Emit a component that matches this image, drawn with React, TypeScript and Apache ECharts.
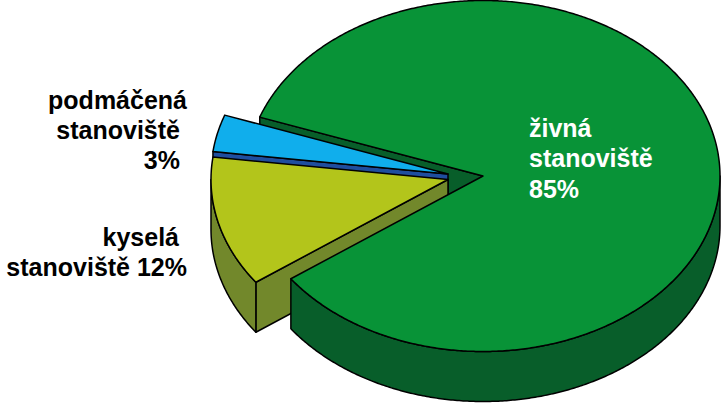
import React, { useEffect, useRef } from "react";
import * as echarts from "echarts";

const categories = ["živná stanoviště", "kyselá stanoviště", "podmáčená stanoviště"];
const shares = [84.6, 12.0, 3.4];
const topColors = ["#089337", "#B3C51B", "#10AEEC"];
const wallColors = ["#085E2A", "#72882B", "#1F4E9E"];

const labelLines = [
  { text: "podmáčená", align: "right", x: 187, y: 100, fill: "#000" },
  { text: "stanoviště", align: "right", x: 180, y: 130, fill: "#000" },
  { text: "3%", align: "right", x: 180, y: 160, fill: "#000" },
  { text: "kyselá", align: "right", x: 179, y: 237, fill: "#000" },
  { text: "stanoviště 12%", align: "right", x: 187, y: 267, fill: "#000" },
  { text: "živná", align: "left", x: 529, y: 128, fill: "#fff" },
  { text: "stanoviště", align: "left", x: 529, y: 158, fill: "#fff" },
  { text: "85%", align: "left", x: 529, y: 189, fill: "#fff" },
];

const RX = 237;
const RY = 175.5;
const DEPTH = 50;
const START = 199.6;
const centers = [
  [483, 176],
  [448, 179.5],
  [448, 174],
];
// Paint order: green's inner wall, blue, yellow, then green's front and top
const layers = [30, 10, 5];
const LINE = { stroke: "#000", lineWidth: 1.5, lineJoin: "round" };

const rad = (d: number) => (d * Math.PI) / 180;
const rim = (c: number[], a: number, dy = 0) => [
  c[0] + RX * Math.cos(rad(a)),
  c[1] + RY * Math.sin(rad(a)) + dy,
];
const arc = (c: number[], a0: number, a1: number, dy = 0) => {
  const pts: number[][] = [];
  const n = Math.max(2, Math.ceil(Math.abs(a1 - a0) * 2));
  for (let i = 0; i <= n; i++) pts.push(rim(c, a0 + ((a1 - a0) * i) / n, dy));
  return pts;
};

const poly = (points: number[][], fill: string, z2: number) => ({
  type: "polygon",
  z2,
  shape: { points },
  style: { fill, ...LINE },
});

function renderSlice(params: any, api: any) {
  const i = params.dataIndex;
  const total = shares.reduce((s, v) => s + v, 0);
  let a0 = START;
  for (let k = 0; k < i; k++) a0 += (shares[k] / total) * 360;
  const a1 = a0 + (api.value(0) / total) * 360;
  const c = centers[i];
  const base = layers[i];
  const children: any[] = [];

  // Wall under the straight edge at the slice's start angle
  const p = rim(c, a0);
  const side = [
    [c[0], c[1]],
    p,
    [p[0], p[1] + DEPTH],
    [c[0], c[1] + DEPTH],
  ];
  children.push(poly(side, wallColors[i], i === 0 ? 1 : base));

  // Outer wall: the part of the rim that lies on the front half of the ellipse
  const ranges: number[][] = [];
  for (const off of [0, 360]) {
    const s = Math.max(a0, off);
    const e = Math.min(a1, off + 180);
    if (e > s) ranges.push([s, e]);
  }
  for (const [s, e] of ranges) {
    children.push(poly([...arc(c, s, e), ...arc(c, e, s, DEPTH)], wallColors[i], base + 2));
  }

  // Top surface
  children.push(poly([[c[0], c[1]], ...arc(c, a0, a1)], topColors[i], base + 3));
  return { type: "group", children };
}

export default function App() {
  const ref = useRef<HTMLDivElement>(null);
  useEffect(() => {
    const chart = echarts.init(ref.current!, undefined, { renderer: "svg" });
    chart.setOption({
      animation: false,
      backgroundColor: "#fff",
      tooltip: { show: false },
      series: [
        {
          type: "custom",
          coordinateSystem: "none",
          silent: true,
          renderItem: renderSlice,
          data: shares.map((v, i) => ({ name: categories[i], value: [v] })),
        },
      ],
      graphic: labelLines.map((l) => ({
        type: "text",
        z: 100,
        style: {
          text: l.text,
          x: l.x,
          y: l.y,
          align: l.align,
          verticalAlign: "middle",
          fill: l.fill,
          font: 'bold 25px "Liberation Sans", Arial, sans-serif',
        },
      })),
    });
    return () => chart.dispose();
  }, []);
  return <div ref={ref} style={{ position: "absolute", left: 0, top: 0, width: 721, height: 404 }} />;
}
